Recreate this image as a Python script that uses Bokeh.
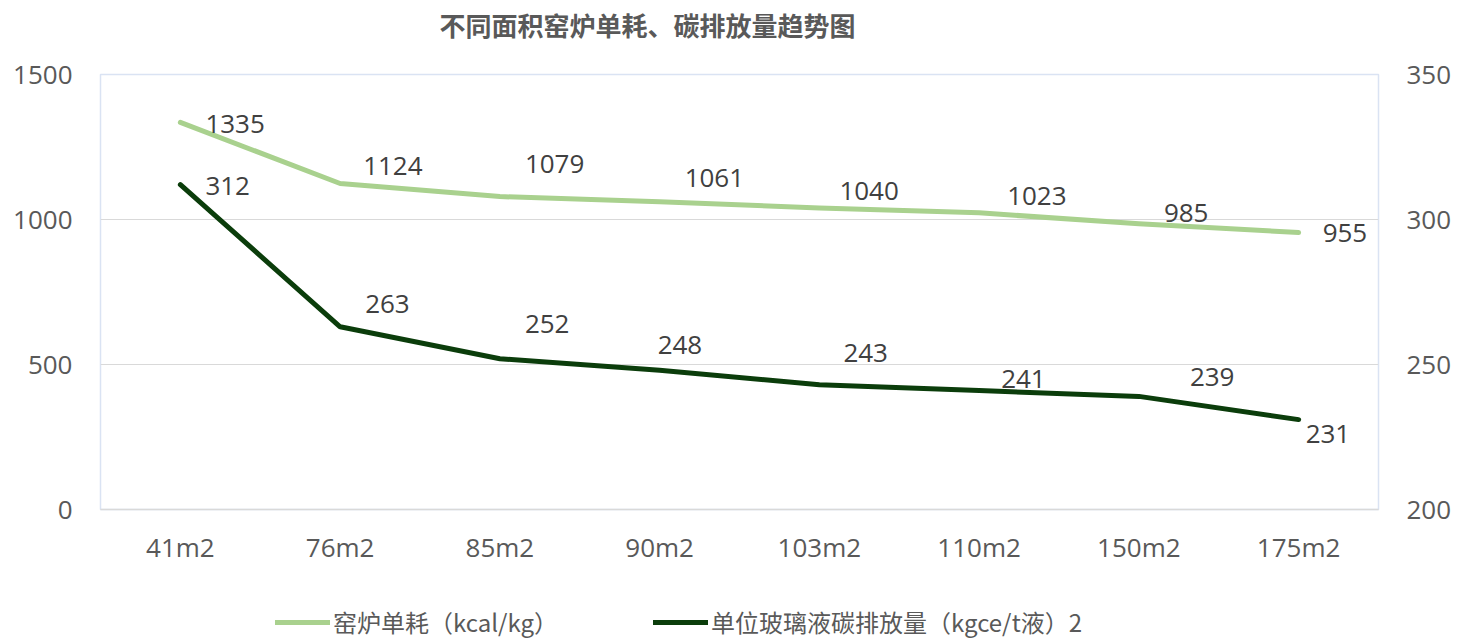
from bokeh.plotting import figure
from bokeh.layouts import column
from bokeh.models import (Range1d, LinearAxis, FixedTicker, FactorRange, Legend,
                          LegendItem, Title, ColumnDataSource)
from bokeh.core.properties import value
from bokeh.embed import file_html
from bokeh.resources import INLINE

# ---- data ----
categories = ["41m2", "76m2", "85m2", "90m2", "103m2", "110m2", "150m2", "175m2"]
unit_consumption = [1335, 1124, 1079, 1061, 1040, 1023, 985, 955]       # 窑炉单耗 (left axis)
carbon_emission = [312, 263, 252, 248, 243, 241, 239, 231]              # 单位玻璃液碳排放量 (right axis)
left_ticks = [0, 500, 1000, 1500]
right_ticks = [200, 250, 300, 350]
series_names = ["窑炉单耗（kcal/kg）", "单位玻璃液碳排放量（kgce/t液）2"]
title_text = "不同面积窑炉单耗、碳排放量趋势图"

# label placement (screen px, layout only)
light_dx = [25, 23, 25, 25, 20, 28, 25, 24]
light_dy = [2, -18, -33, -24, -17, -17, -11, 0]
dark_dx = [25, 25, 25, -2, 24, 22, 51, 7]
dark_dy = [1, -23, -35, -25, -32, -12, -19, 14]

LIGHT = "#a9d18e"
DARK = "#0b3d0b"
NUM_FONT = "Open Sans"
CJK_FONT = "Noto Sans CJK SC"

p = figure(x_range=FactorRange(*categories, range_padding=0),
           y_range=Range1d(0, 1500),
           frame_width=1278, frame_height=435,
           min_border_left=100, min_border_right=81,
           min_border_top=74, min_border_bottom=75,
           output_backend="svg", toolbar_location=None, tools="")
p.extra_y_ranges = {"right": Range1d(200, 350)}

# title (a thin spacer nearest the frame, then the real title above it)
spacer = Title(text=" ", text_font_size="1px", standoff=22)
p.add_layout(spacer, "above")
t = Title(text=title_text, align="left", offset=339, vertical_align="top",
          text_font=CJK_FONT, text_font_size="26px", text_font_style="bold",
          text_color="#595959", standoff=10)
p.add_layout(t, "above")

# axes styling
def style_axis(ax, standoff):
    ax.axis_line_color = None
    ax.major_tick_line_color = None
    ax.minor_tick_line_color = None
    ax.major_tick_out = 0
    ax.major_tick_in = 0
    ax.minor_tick_out = 0
    ax.major_label_text_font = NUM_FONT
    ax.major_label_text_font_size = "26px"
    ax.major_label_text_color = "#595959"
    ax.major_label_standoff = standoff

p.yaxis.ticker = FixedTicker(ticks=left_ticks)
style_axis(p.yaxis[0], 28)

raxis = LinearAxis(y_range_name="right", ticker=FixedTicker(ticks=right_ticks))
style_axis(raxis, 28)
p.add_layout(raxis, "right")

xa = p.xaxis[0]
style_axis(xa, 19)
xa.axis_line_color = "#d9d9d9"
xa.axis_line_width = 1.5

p.xgrid.grid_line_color = None
p.ygrid.grid_line_color = "#d9d9d9"
p.ygrid.grid_line_width = 1
p.outline_line_color = "#dae3f3"
p.outline_line_width = 1.5
p.background_fill_color = "white"
p.border_fill_color = "white"

src_l = ColumnDataSource(dict(x=categories, y=unit_consumption,
                              t=[str(v) for v in unit_consumption],
                              dx=light_dx, dy=light_dy))
src_d = ColumnDataSource(dict(x=categories, y=carbon_emission,
                              t=[str(v) for v in carbon_emission],
                              dx=dark_dx, dy=dark_dy))

p.line("x", "y", source=src_l, line_color=LIGHT, line_width=5,
       line_cap="round", line_join="round")
p.line("x", "y", source=src_d, line_color=DARK, line_width=5,
       line_cap="round", line_join="round", y_range_name="right")

p.text("x", "y", text="t", source=src_l, x_offset="dx", y_offset="dy",
       text_align="left", text_baseline="middle", text_color="#404040",
       text_font=value(NUM_FONT), text_font_size="26px")
p.text("x", "y", text="t", source=src_d, x_offset="dx", y_offset="dy",
       text_align="left", text_baseline="middle", text_color="#404040",
       text_font=value(NUM_FONT), text_font_size="26px", y_range_name="right")

# ---- legend strip below the chart (key swatches only, no data drawn) ----
lf = figure(width=1459, height=55, x_range=Range1d(0, 1), y_range=Range1d(0, 1),
            x_axis_location=None, y_axis_location=None,
            min_border=0, min_border_left=0, min_border_right=0,
            min_border_top=0, min_border_bottom=0,
            output_backend="svg", toolbar_location=None, tools="")
lf.outline_line_color = None
lf.xgrid.grid_line_color = None
lf.ygrid.grid_line_color = None
lf.background_fill_color = "white"
lf.border_fill_color = "white"
nan = float("nan")
g1 = lf.line(x=[nan], y=[nan], line_color=LIGHT, line_width=5, line_cap="round")
g2 = lf.line(x=[nan], y=[nan], line_color=DARK, line_width=5, line_cap="round")

legend = Legend(items=[LegendItem(label=series_names[0], renderers=[g1]),
                       LegendItem(label=series_names[1], renderers=[g2])],
                location=(175, 0), orientation="horizontal",
                label_text_font=CJK_FONT, label_text_font_size="24px",
                label_text_color="#595959", glyph_width=55, glyph_height=20,
                label_standoff=3, spacing=95, padding=0, margin=0,
                border_line_color=None, background_fill_alpha=0)
lf.add_layout(legend, "center")

layout = column(p, lf, spacing=0)
open("out.html", "w").write(file_html(layout, INLINE))
